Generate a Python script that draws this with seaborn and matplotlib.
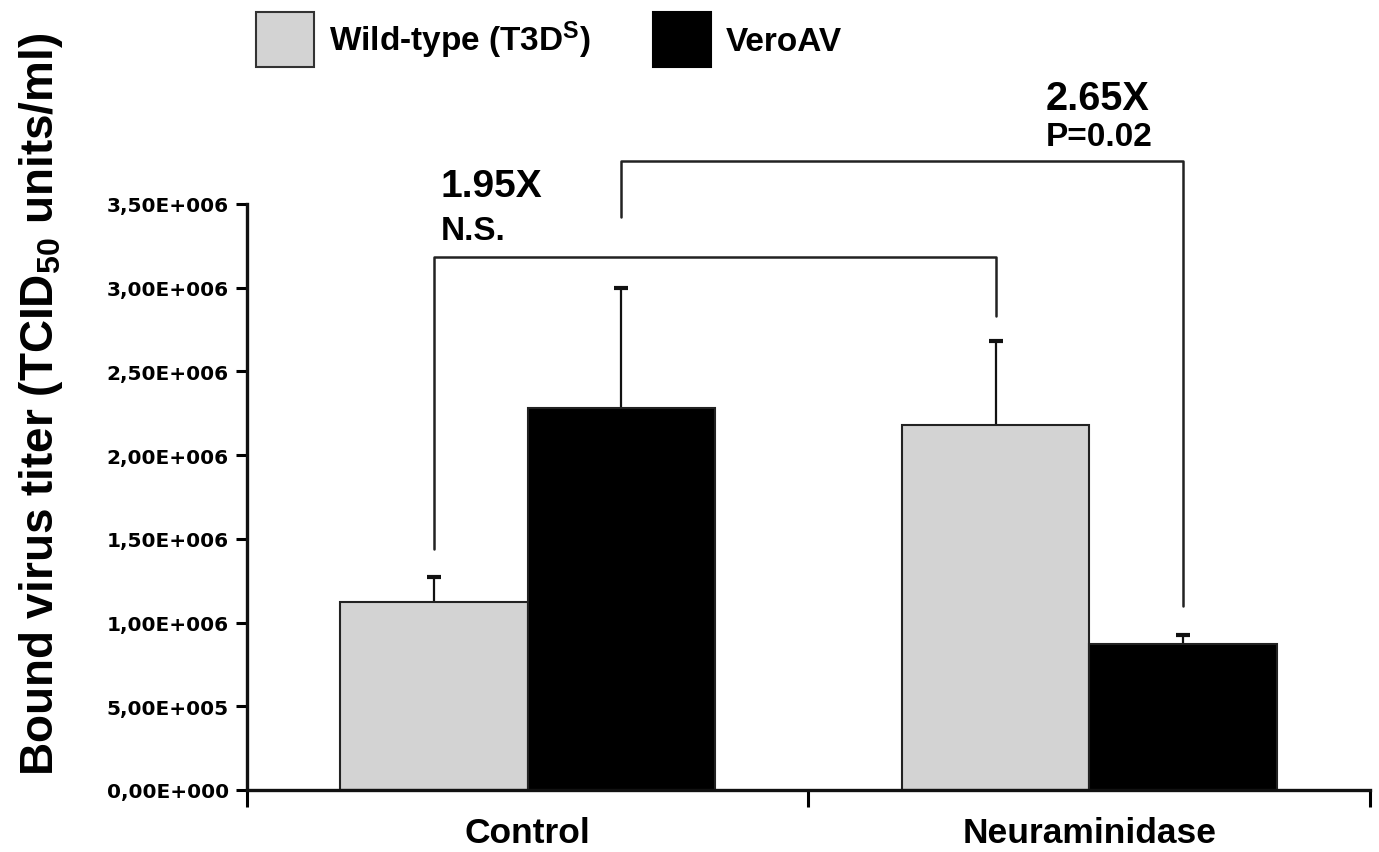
import matplotlib
matplotlib.use("Agg")
import matplotlib.pyplot as plt
import seaborn as sns
import pandas as pd
from matplotlib.ticker import FuncFormatter, FixedLocator
from matplotlib.patches import Patch

# data
treatments = ["Control", "Neuraminidase"]
strains = ["Wild-type (T3D$^{\\mathregular{S}}$)", "VeroAV"]
wt_titer = [1.12e6, 2.18e6]
vero_titer = [2.28e6, 0.87e6]
wt_err = [0.15e6, 0.50e6]
vero_err = [0.72e6, 0.055e6]
yticks = [0, 0.5e6, 1.0e6, 1.5e6, 2.0e6, 2.5e6, 3.0e6, 3.5e6]

sns.set_style("ticks")
plt.rcParams["font.family"] = ["Liberation Sans", "DejaVu Sans"]
plt.rcParams["font.weight"] = "bold"
plt.rcParams["mathtext.default"] = "regular"
plt.rcParams["text.color"] = "black"
plt.rcParams["axes.labelcolor"] = "black"
plt.rcParams["xtick.color"] = "black"
plt.rcParams["ytick.color"] = "black"

df = pd.DataFrame({
    "treatment": treatments * 2,
    "strain": [strains[0]] * 2 + [strains[1]] * 2,
    "titer": wt_titer + vero_titer,
    "err": wt_err + vero_err,
})

fig = plt.figure(figsize=(13.79, 8.53), dpi=100)
ax = fig.add_axes([0.179, 0.0727, 0.8145, 0.687])

sns.barplot(data=df, x="treatment", y="titer", hue="strain", order=treatments,
            hue_order=strains, palette=["#d3d3d3", "#000000"], width=0.667,
            errorbar=None, edgecolor="#222222", linewidth=1.5, legend=False,
            zorder=2, ax=ax)

# upper error bars only
centers = {}
for patch, (_, row) in zip(ax.patches, df.iterrows()):
    xc = patch.get_x() + patch.get_width() / 2
    centers[(row["treatment"], row["strain"])] = xc
    eb = ax.errorbar(xc, row["titer"], yerr=[[0], [row["err"]]], fmt="none",
                     ecolor="#111111", elinewidth=1.6, capsize=5, capthick=3, zorder=1)
    eb[1][0].set_visible(False)

ax.set_xlim(-0.5, 1.5)
ax.set_ylim(0, 3.5e6)
ax.yaxis.set_major_locator(FixedLocator(yticks))

def sci_comma(v, pos):
    if v == 0:
        return "0,00E+000"
    exp = 0
    m = v
    while m >= 10:
        m /= 10
        exp += 1
    return f"{m:.2f}".replace(".", ",") + f"E+{exp:03d}"

ax.yaxis.set_major_formatter(FuncFormatter(sci_comma))
for lab in ax.get_yticklabels():
    lab.set_fontfamily("DejaVu Sans")
    lab.set_fontsize(14.5)
    lab.set_fontweight("bold")
ax.tick_params(axis="y", length=8, width=2.2, direction="out", pad=5)

ax.set_xticks([-0.5, 0.5, 1.5], minor=True)
ax.tick_params(axis="x", which="minor", length=12, width=2.2, direction="out")
ax.tick_params(axis="x", which="major", length=0, pad=19, labelsize=25.5)
for lab in ax.get_xticklabels():
    lab.set_fontweight("bold")

ax.set_xlabel("")
ax.set_ylabel("Bound virus titer (TCID$_{50}$ units/ml)", fontsize=33, fontweight="bold")
ax.yaxis.set_label_coords(-0.162, 0.66)

sns.despine(ax=ax)
for s in ["left", "bottom"]:
    ax.spines[s].set_linewidth(2.4)
    ax.spines[s].set_color("#111111")

# significance brackets between bar centres
lw = 1.8
c = "#222222"
xa = centers[("Control", strains[0])]
xb = centers[("Neuraminidase", strains[0])]
ax.plot([xa, xa, xb, xb], [1.44e6, 3.184e6, 3.184e6, 2.83e6], color=c, lw=lw, clip_on=False)
xa = centers[("Control", strains[1])]
xb = centers[("Neuraminidase", strains[1])]
ax.plot([xa, xa, xb, xb], [3.42e6, 3.757e6, 3.757e6, 1.10e6], color=c, lw=lw, clip_on=False)

ax.text(-0.155, 3.61e6, "1.95X", fontsize=28, fontweight="bold", va="center", ha="left")
ax.text(-0.155, 3.34e6, "N.S.", fontsize=24, fontweight="bold", va="center", ha="left")
ax.text(0.922, 4.13e6, "2.65X", fontsize=28.5, fontweight="bold", va="center", ha="left")
ax.text(0.922, 3.905e6, "P=0.02", fontsize=24, fontweight="bold", va="center", ha="left")

# legend above the axes
handles = [Patch(facecolor="#d3d3d3", edgecolor="#333333", linewidth=1.5),
           Patch(facecolor="#000000", edgecolor="#000000", linewidth=1.5)]
fig.legend(handles, strains, loc="upper left", bbox_to_anchor=(0.1735, 1.004),
           ncol=2, frameon=False, fontsize=24, handlelength=1.75, handleheight=2.15,
           handletextpad=0.45, columnspacing=1.85, borderpad=0)

fig.savefig("out.png", dpi=100)
